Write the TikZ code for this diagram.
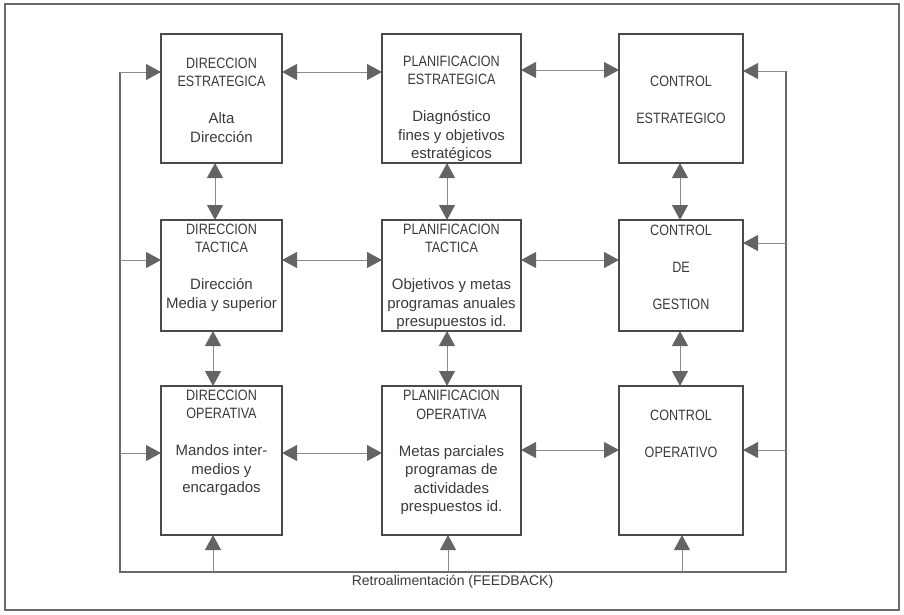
\documentclass[tikz,border=0pt]{standalone}
\usepackage{fontspec}
\setmainfont{Liberation Sans}
\newfontfamily\capsfont[FakeStretch=0.84]{Liberation Sans}
\usetikzlibrary{arrows.meta}

\definecolor{boxgray}{HTML}{4A4A4A}
\definecolor{linegray}{HTML}{8A8A8A}
\definecolor{loopgray}{HTML}{6A6A6A}
\definecolor{tipgray}{HTML}{646464}
\definecolor{txtgray}{HTML}{3A3A3A}

\newcommand\capword[1]{{\capsfont #1}}

\tikzset{
  block/.style={draw=boxgray, line width=1.2pt, inner sep=0pt, outer sep=0pt},
  label/.style={align=center, text=txtgray, inner sep=0pt,
    font=\fontsize{15}{18.5}\selectfont},
  tri/.tip={Triangle[width=16pt, length=15pt, color=tipgray]},
  both/.style={draw=linegray, line width=0.8pt, {tri}-{tri}},
  into/.style={draw=linegray, line width=0.8pt, -{tri}},
  loop/.style={draw=loopgray, line width=1.2pt},
  frame/.style={draw=loopgray, line width=1.6pt}
}

\begin{document}
\begin{tikzpicture}[x=1pt, y=-1pt]
\useasboundingbox (0,0) rectangle (904,614);
\draw[frame] (5,4) rectangle (899,610);

% --- boxes -------------------------------------------------------------
\node[block, minimum width=121pt, minimum height=129pt] (b11) at (221.5,98.5) {};
\node[block, minimum width=139pt, minimum height=129pt] (b12) at (451.5,98.5) {};
\node[block, minimum width=124pt, minimum height=129pt] (b13) at (681,98.5) {};
\node[block, minimum width=121pt, minimum height=111pt] (b21) at (221.5,275.5) {};
\node[block, minimum width=139pt, minimum height=111pt] (b22) at (451.5,275.5) {};
\node[block, minimum width=124pt, minimum height=111pt] (b23) at (681,275.5) {};
\node[block, minimum width=121pt, minimum height=149pt] (b31) at (221.5,460.5) {};
\node[block, minimum width=139pt, minimum height=149pt] (b32) at (451.5,460.5) {};
\node[block, minimum width=124pt, minimum height=149pt] (b33) at (681,460.5) {};

% --- box texts ---------------------------------------------------------
\node[label] (t11) at (221.5,100) {\capword{DIRECCION}\\\capword{ESTRATEGICA}\\[18.5pt]Alta\\Dirección};
\node[label] (t12) at (451.5,109) {\capword{PLANIFICACION}\\\capword{ESTRATEGICA}\\[18.5pt]Diagnóstico\\fines y objetivos\\estratégicos};
\node[label] (t13) at (681,100) {\capword{CONTROL}\\[18.5pt]\capword{ESTRATEGICO}};
\node[label] (t21) at (221.5,267.5) {\capword{DIRECCION}\\\capword{TACTICA}\\[18.5pt]Dirección\\Media y superior};
\node[label] (t22) at (451.5,277) {\capword{PLANIFICACION}\\\capword{TACTICA}\\[18.5pt]Objetivos y metas\\programas anuales\\presupuestos id.};
\node[label] (t23) at (681,267) {\capword{CONTROL}\\[18.5pt]\capword{DE}\\[18.5pt]\capword{GESTION}};
\node[label] (t31) at (221.5,443) {\capword{DIRECCION}\\\capword{OPERATIVA}\\[18.5pt]Mandos inter-\\medios y\\encargados};
\node[label] (t32) at (451.5,452.5) {\capword{PLANIFICACION}\\\capword{OPERATIVA}\\[18.5pt]Metas parciales\\programas de\\actividades\\prespuestos id.};
\node[label] (t33) at (681,433.5) {\capword{CONTROL}\\[18.5pt]\capword{OPERATIVO}};

% --- links between neighbouring boxes ----------------------------------
\draw[both] (b11.east |- 0,72) -- (b12.west |- 0,72);
\draw[both] (b12.east |- 0,70) -- (b13.west |- 0,70);
\draw[both] (b21.east |- 0,260) -- (b22.west |- 0,260);
\draw[both] (b22.east |- 0,260) -- (b23.west |- 0,260);
\draw[both] (b31.east |- 0,453) -- (b32.west |- 0,453);
\draw[both] (b32.east |- 0,450) -- (b33.west |- 0,450);

\draw[both] (215,0 |- b11.south) -- (215,0 |- b21.north);
\draw[both] (213,0 |- b21.south) -- (213,0 |- b31.north);
\draw[both] (447,0 |- b12.south) -- (447,0 |- b22.north);
\draw[both] (447,0 |- b22.south) -- (447,0 |- b32.north);
\draw[both] (680,0 |- b13.south) -- (680,0 |- b23.north);
\draw[both] (680,0 |- b23.south) -- (680,0 |- b33.north);

% --- feedback loop -----------------------------------------------------
\coordinate (fl1) at (120,72);
\coordinate (fl2) at (120,260);
\coordinate (fl3) at (120,453);
\coordinate (flb) at (120,572);
\coordinate (fb1) at (213,572);
\coordinate (fb2) at (448,572);
\coordinate (fb3) at (682,572);
\coordinate (frb) at (786,572);
\coordinate (fr3) at (786,450);
\coordinate (fr2) at (786,243);
\coordinate (fr1) at (786,71);

\draw[loop] (fl1) -- (flb) -- (frb) -- (fr1);

\draw[into] (fl1) -- (b11.west |- fl1);
\draw[into] (fl2) -- (b21.west |- fl2);
\draw[into] (fl3) -- (b31.west |- fl3);
\draw[into] (fr1) -- (b13.east |- fr1);
\draw[into] (fr2) -- (b23.east |- fr2);
\draw[into] (fr3) -- (b33.east |- fr3);
\draw[into] (fb1) -- (fb1 |- b31.south);
\draw[into] (fb2) -- (fb2 |- b32.south);
\draw[into] (fb3) -- (fb3 |- b33.south);

\node[label, font=\fontsize{14}{16}\selectfont] (fbtext) at (452.5,582) {Retroalimentación (FEEDBACK)};
\end{tikzpicture}
\end{document}
